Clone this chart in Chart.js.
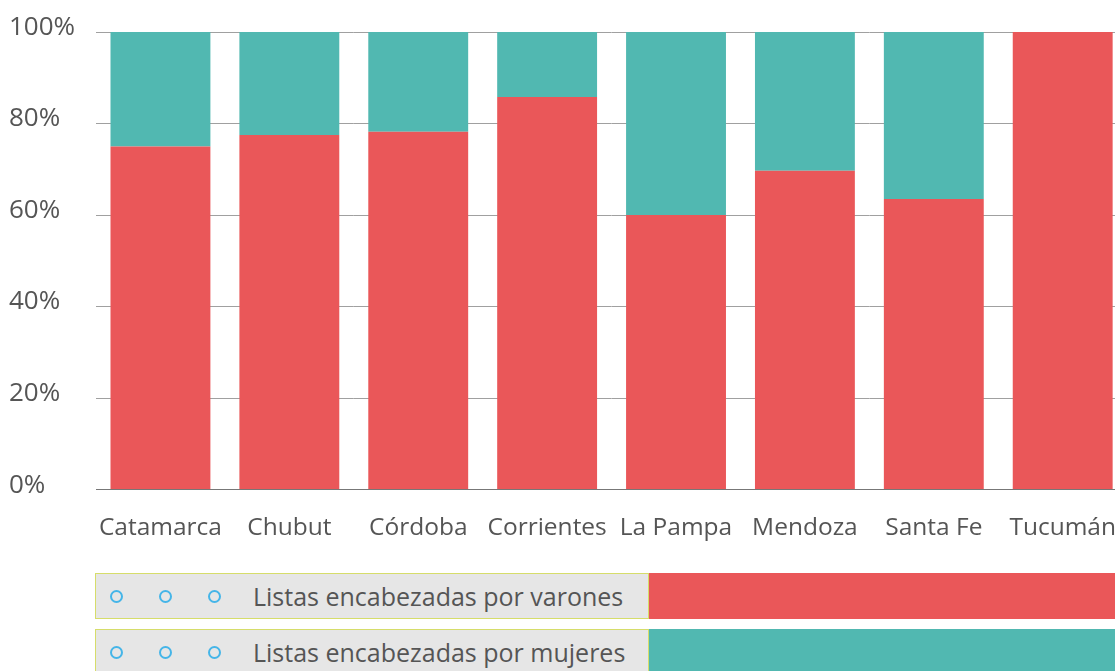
<!DOCTYPE html>
<html>
<head>
<meta charset="utf-8">
<script src="https://cdn.jsdelivr.net/npm/chart.js@4.4.1/dist/chart.umd.min.js"></script>
<style>
  html, body { margin: 0; padding: 0; background: #fff; overflow: hidden; width: 1115px; height: 671px; }
  #wrap { position: absolute; left: 0; top: 0; width: 1140px; height: 567px; }
  .legrow { position: absolute; left: 95px; height: 46px; width: 1040px; font-family: "Open Sans", sans-serif; }
  .legbox { position: absolute; left: 0; top: 0; width: 552px; height: 44px; background: #e6e6e6; border: 1px solid #d6dd6a; }
  .legcol { position: absolute; left: 554px; top: 0; right: 0; height: 46px; }
  .dot { position: absolute; top: 15.5px; width: 9px; height: 9px; border: 2.6px solid #45b5e8; border-radius: 50%; }
  .legtxt { position: absolute; left: 157px; top: 0; line-height: 44px; font-size: 25px; color: #555; white-space: nowrap; }
</style>
</head>
<body>
<div id="wrap"><canvas id="c" width="1140" height="567"></canvas></div>
<div class="legrow" style="top:573px">
  <div class="legbox">
    <div class="dot" style="left:14px"></div>
    <div class="dot" style="left:63px"></div>
    <div class="dot" style="left:112px"></div>
    <div class="legtxt" id="lt0"></div>
  </div>
  <div class="legcol" id="lc0"></div>
</div>
<div class="legrow" style="top:629px">
  <div class="legbox">
    <div class="dot" style="left:14px"></div>
    <div class="dot" style="left:63px"></div>
    <div class="dot" style="left:112px"></div>
    <div class="legtxt" id="lt1"></div>
  </div>
  <div class="legcol" id="lc1"></div>
</div>
<script>
const categories = ["Catamarca", "Chubut", "Córdoba", "Corrientes", "La Pampa", "Mendoza", "Santa Fe", "Tucumán"];
const seriesNames = ["Listas encabezadas por varones", "Listas encabezadas por mujeres"];
const varones = [75, 77.5, 78.2, 85.8, 60, 69.7, 63.5, 100];
const mujeres = [25, 22.5, 21.8, 14.2, 40, 30.3, 36.5, 0];
const yTicks = [0, 20, 40, 60, 80, 100];
const colors = ["#EA5759", "#51B8B1"];

document.getElementById('lt0').textContent = seriesNames[0];
document.getElementById('lt1').textContent = seriesNames[1];
document.getElementById('lc0').style.background = colors[0];
document.getElementById('lc1').style.background = colors[1];

const xFont = { family: '"Open Sans", sans-serif', size: 24.5 };
const yFont = { family: '"Open Sans", sans-serif', size: 26 };
new Chart(document.getElementById('c'), {
  type: 'bar',
  data: {
    labels: categories,
    datasets: [
      { label: seriesNames[0], data: varones, backgroundColor: colors[0], barPercentage: 0.775, categoryPercentage: 1 },
      { label: seriesNames[1], data: mujeres, backgroundColor: colors[1], barPercentage: 0.775, categoryPercentage: 1 }
    ]
  },
  options: {
    responsive: false,
    animation: false,
    devicePixelRatio: 1,
    layout: { padding: { left: 9, top: 32, right: 0, bottom: 0 } },
    plugins: { legend: { display: false }, tooltip: { enabled: false } },
    scales: {
      x: {
        stacked: true,
        grid: { display: false, drawTicks: false },
        border: { display: true, color: '#777', width: 1 },
        ticks: { color: '#555', font: xFont, padding: 24, maxRotation: 0, autoSkip: false }
      },
      y: {
        stacked: true,
        min: 0, max: 100,
        afterBuildTicks: (s) => { s.ticks = yTicks.map(v => ({ value: v })); },
        afterFit: (s) => { s.width = 87; },
        grid: { color: '#a0a0a0', lineWidth: 1, drawTicks: false },
        border: { display: false },
        ticks: { color: '#555', font: yFont, crossAlign: 'far', labelOffset: -4.5, callback: (v) => v + '%' }
      }
    }
  }
});
</script>
</body>
</html>
